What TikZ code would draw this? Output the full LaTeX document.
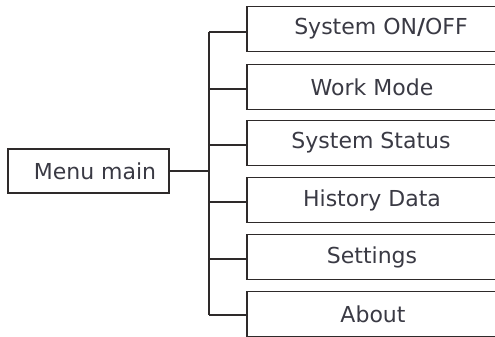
\documentclass[tikz,border=0pt]{standalone}
\usepackage{fontspec}
\setmainfont{DejaVu Sans}
\definecolor{txt}{HTML}{3A3A44}
\definecolor{ln}{HTML}{2E2A2A}
\tikzset{
  menubox/.style={draw=ln, line width=1.7pt, minimum width=252pt, minimum height=45pt, inner sep=0pt, anchor=west},
  mainbox/.style={draw=ln, line width=1.3pt, minimum width=161pt, minimum height=44pt, inner sep=0pt},
  lbl/.style={text=txt, font=\fontsize{22}{25}\selectfont},
  conn/.style={draw=ln, line width=1.2pt}
}
\begin{document}
\begin{tikzpicture}[x=1pt,y=-1pt]
\useasboundingbox (0,0) rectangle (495,337);
\clip (0,0) rectangle (495,337);
\node[mainbox] (main) at (88.5,171) {};
\node[lbl] at (95,171) {Menu main};
\node[menubox] (b1) at (246,29) {};
\node[menubox] (b2) at (246,87) {};
\node[menubox] (b3) at (246,143) {};
\node[menubox] (b4) at (246,200) {};
\node[menubox] (b5) at (246,257) {};
\node[menubox] (b6) at (246,314) {};
\node[lbl] at (381,29) {System ON\textbf{/}OFF};
\node[lbl] at (372,87) {Work Mode};
\node[lbl] at (371,143) {System Status};
\node[lbl] at (372,200) {History Data};
\node[lbl] at (372,257) {Settings};
\node[lbl] at (373,314) {About};
\coordinate (j) at (209,171);
\coordinate (t) at (209,32);
\coordinate (u) at (209,315);
\draw[conn] (main.east) -- (j);
\draw[conn] (t) -- (u);
\foreach \b/\y in {b1/32,b2/89,b3/145,b4/202,b5/259,b6/315}{
  \draw[conn] (209,\y) -- (\b.west |- 0,\y);
}
\end{tikzpicture}
\end{document}
